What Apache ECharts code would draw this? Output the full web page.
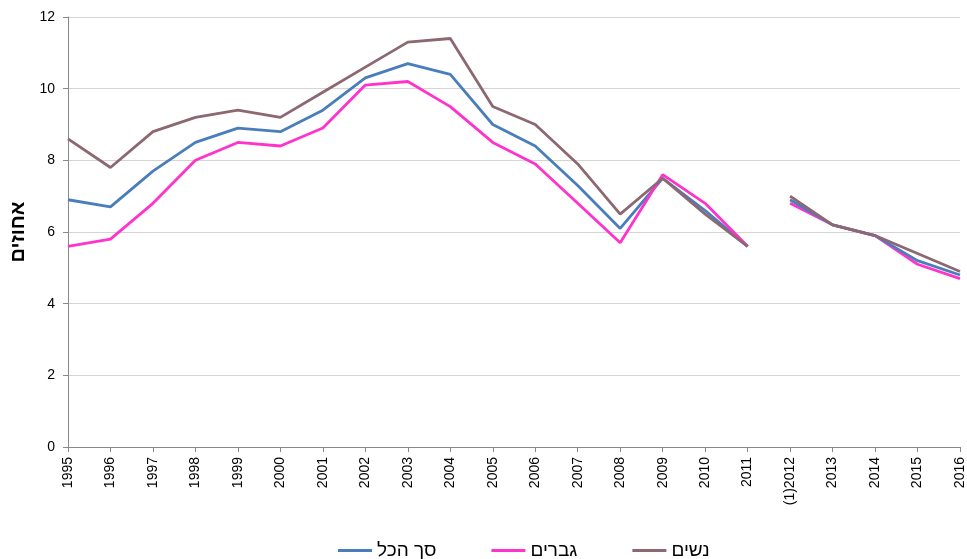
<!DOCTYPE html>
<html>
<head>
<meta charset="utf-8">
<script src="https://cdn.jsdelivr.net/npm/echarts@6/dist/echarts.min.js"></script>
<style>
    html, body { margin: 0; padding: 0; background: #fff; }
    #chart { width: 967px; height: 559px; }
</style>
</head>
<body>
<div id="chart"></div>
<script>
var years = ['1995', '1996', '1997', '1998', '1999', '2000', '2001', '2002', '2003', '2004', '2005',
    '2006', '2007', '2008', '2009', '2010', '2011', '(1)2012', '2013', '2014', '2015', '2016'];

// values for 1995-2016, 2012 slot filled from the separate 2012 values below
var total = [6.9, 6.7, 7.7, 8.5, 8.9, 8.8, 9.4, 10.3, 10.7, 10.4, 9.0, 8.4, 7.3, 6.1, 7.5, 6.6, 5.6, null, 6.2, 5.9, 5.2, 4.8];
var men = [5.6, 5.8, 6.8, 8.0, 8.5, 8.4, 8.9, 10.1, 10.2, 9.5, 8.5, 7.9, 6.8, 5.7, 7.6, 6.8, 5.6, null, 6.2, 5.9, 5.1, 4.7];
var women = [8.6, 7.8, 8.8, 9.2, 9.4, 9.2, 9.9, 10.6, 11.3, 11.4, 9.5, 9.0, 7.9, 6.5, 7.5, 6.5, 5.6, null, 6.2, 5.9, 5.4, 4.9];

// 2012 values (new series definition), drawn as a separate segment
var total2012 = 6.9;
var men2012 = 6.8;
var women2012 = 7.0;

var seriesNames = ['סך הכל', 'גברים', 'נשים'];
var yTicks = [0, 12, 2];

function splitSeries(values, v2012) {
    // first segment 1995-2011, second segment 2012-2016
    var a = values.map(function (v, i) { return i <= 16 ? v : null; });
    var b = values.map(function (v, i) { return i >= 17 ? (i === 17 ? v2012 : v) : null; });
    return [a, b];
}

var chart = echarts.init(document.getElementById('chart'), null, { renderer: 'canvas' });

var colors = ['#4a7ebb', '#ff33cc', '#8c6870'];
var sets = [splitSeries(total, total2012), splitSeries(men, men2012), splitSeries(women, women2012)];
var zOrder = [[3, 3], [5, 2], [6, 6]];

var series = [];
sets.forEach(function (pair, k) {
    pair.forEach(function (data, j) {
        series.push({
            name: seriesNames[k],
            type: 'line',
            data: data,
            showSymbol: false,
            symbol: 'none',
            connectNulls: false,
            lineStyle: { color: colors[k], width: 2.8 },
            itemStyle: { color: colors[k] },
            z: zOrder[k][j]
        });
    });
});

var option = {
    animation: false,
    backgroundColor: '#ffffff',
    color: colors,
    grid: { left: 68, right: 7, top: 17, bottom: 112, containLabel: false, outerBoundsMode: 'none' },
    legend: {
        data: seriesNames,
        top: 541,
        left: 338,
        padding: 0,
        icon: 'rect',
        itemWidth: 34,
        itemHeight: 3,
        itemGap: 55,
        textStyle: { fontFamily: 'Liberation Sans', fontSize: 19, color: '#000' }
    },
    xAxis: {
        type: 'category',
        data: years,
        boundaryGap: false,
        axisLine: { lineStyle: { color: '#888888', width: 1 } },
        axisTick: { show: true, length: 5, alignWithLabel: true, lineStyle: { color: '#888888' } },
        axisLabel: {
            rotate: 90,
            interval: 0,
            margin: 10,
            fontFamily: 'Liberation Sans',
            fontSize: 14,
            color: '#000'
        },
        splitLine: { show: false }
    },
    yAxis: {
        type: 'value',
        min: yTicks[0],
        max: yTicks[1],
        interval: yTicks[2],
        name: 'אחוזים',
        nameLocation: 'middle',
        nameRotate: 90,
        nameGap: 40,
        nameTextStyle: { fontFamily: 'Liberation Sans', fontSize: 20, fontWeight: 'bold', color: '#000' },
        axisLine: { show: true, lineStyle: { color: '#888888', width: 1 } },
        axisTick: { show: true, length: 5, lineStyle: { color: '#888888' } },
        axisLabel: { fontFamily: 'Liberation Sans', fontSize: 14, color: '#000', margin: 13 },
        splitLine: { show: true, lineStyle: { color: '#d4d4d4', width: 1 } }
    },
    series: series
};

chart.setOption(option);
</script>
</body>
</html>
